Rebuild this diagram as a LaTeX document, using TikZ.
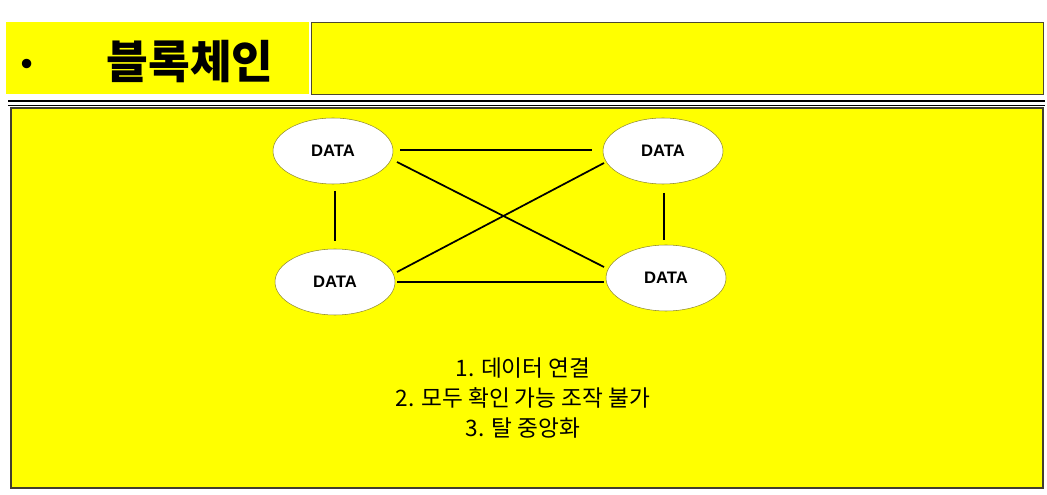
\documentclass[tikz,border=0pt]{standalone}
\usetikzlibrary{shapes.geometric}
\usepackage{fontspec}
\setmainfont{Liberation Sans}
\newfontfamily\cjk{Noto Sans CJK KR}
\newfontfamily\cjkb{Noto Sans CJK KR Black}
\definecolor{ylw}{RGB}{255,255,0}
\begin{document}
\begin{tikzpicture}[x=0.75pt,y=-0.75pt,
  ell/.style={ellipse,draw=olive!70!gray,fill=white,minimum width=120*0.75pt,minimum height=66*0.75pt,font=\bfseries\fontsize{12.5}{14}\selectfont},
  link/.style={line width=1.3pt}]
\useasboundingbox (0,0) rectangle (1047,495);
\fill[white] (0,0) rectangle (1047,495);
\fill[ylw] (6,22) rectangle (309,94);
\draw[fill=ylw,draw=black!60!olive,line width=0.6pt] (311,22) rectangle (1043,94);
\node[anchor=west,font=\fontsize{26}{30}\selectfont] (bul) at (16,67) {•};
\node[anchor=west,font=\cjkb\fontsize{34}{38}\selectfont] (title) at (102,62) {블록체인};
\draw[line width=2.2pt] (8,101) -- (1045,101);
\draw[line width=0.7pt] (8,105) -- (1045,105);
\draw[fill=ylw,draw=black!70!olive,line width=0.8pt] (11,108) rectangle (1043,488);
\node[ell] (tl) at (333,151) {DATA};
\node[ell] (tr) at (663,151) {DATA};
\node[ell] (bl) at (335,282) {DATA};
\node[ell] (br) at (666,278) {DATA};
\coordinate (a1) at (400,150); \coordinate (a2) at (592,150);
\coordinate (b1) at (397,282); \coordinate (b2) at (604,282);
\coordinate (c1) at (335,191); \coordinate (c2) at (335,241);
\coordinate (d1) at (664,193); \coordinate (d2) at (664,240);
\coordinate (e1) at (397,162); \coordinate (e2) at (604,267);
\coordinate (f1) at (397,272); \coordinate (f2) at (604,163);
\draw[link] (a1) -- (a2);
\draw[link] (b1) -- (b2);
\draw[link] (c1) -- (c2);
\draw[link] (d1) -- (d2);
\draw[link] (e1) -- (e2);
\draw[link] (f1) -- (f2);
\node[align=center,font=\cjk\fontsize{17}{22.5}\selectfont] (txt) at (523,398) {1. 데이터 연결\\2. 모두 확인 가능 조작 불가\\3. 탈 중앙화};
\end{tikzpicture}
\end{document}
